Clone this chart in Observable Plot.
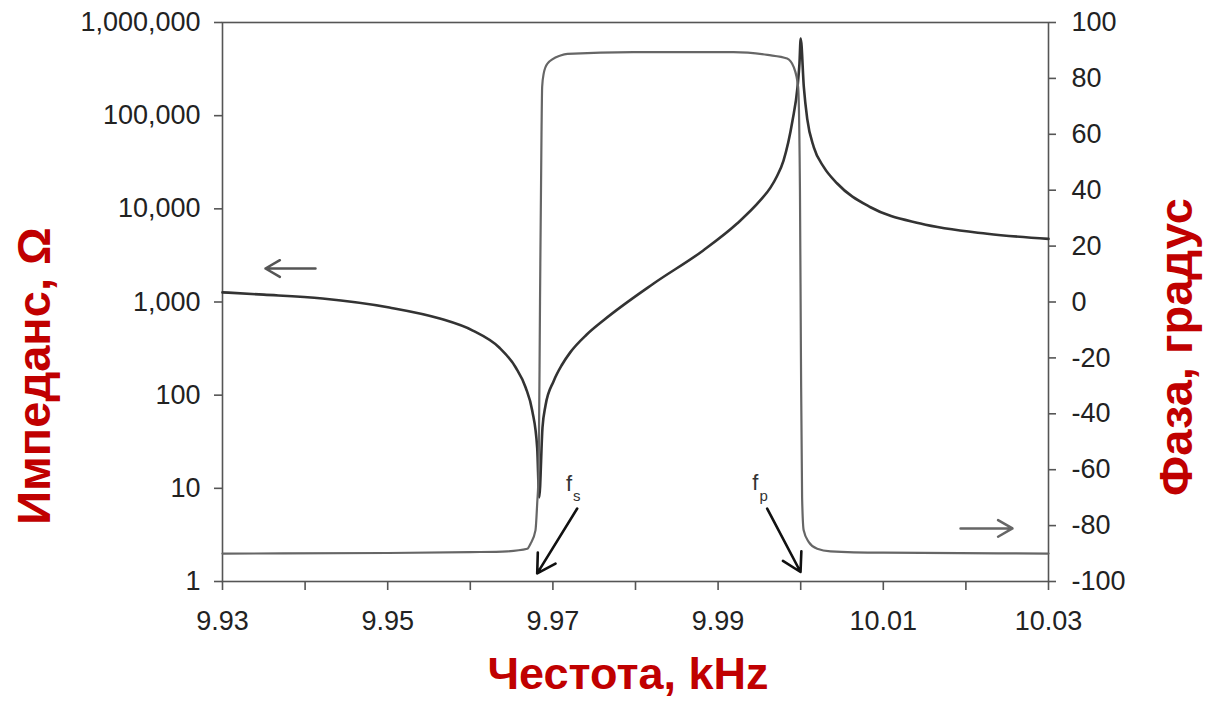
<!DOCTYPE html>
<html><head><meta charset="utf-8">
<script src="https://cdn.jsdelivr.net/npm/d3@7"></script>
<script src="https://cdn.jsdelivr.net/npm/@observablehq/plot@0.6"></script>
<style>
body{margin:0;background:#fff;}
#wrap{position:relative;width:1205px;height:701px;overflow:hidden;}
#wrap svg{position:absolute;left:0;top:0;}
</style></head><body><div id="wrap"></div>
<script>
// Impedance curve (kHz, Ohm)
const freqZ = [9.9300, 9.9350, 9.9421, 9.9502, 9.9563, 9.9603, 9.9635, 9.9655, 9.9667, 9.9675, 9.9681, 9.96834,
  9.96874, 9.9691, 9.9701, 9.9711, 9.9721, 9.97407, 9.9761, 9.9822, 9.9882, 9.9923, 9.9951, 9.99634, 9.99714, 9.99792, 9.99901,
  9.99961, 9.99985, 10.0000, 10.00038, 10.00079, 10.00159, 10.00280, 10.00442, 10.00845, 10.01450, 10.02258, 10.0300];
const impedance = [1270, 1200, 1090, 873, 665, 494, 325, 198, 121, 68, 27, 8,
  45, 77, 142, 212, 288, 445, 633, 1580, 3575, 6950, 12300, 16900, 22500, 33000, 88700,
  200700, 363000, 673000, 202000, 92300, 45800, 28000, 18700, 10400, 6950, 5400, 4760];
// Phase curve (kHz, degrees)
const freqP = [9.9300, 9.9500, 9.9600, 9.9645, 9.9669, 9.96729, 9.96789, 9.96810, 9.96828, 9.96844, 9.96862, 9.96870,
  9.96889, 9.96934, 9.97092, 9.97177, 9.97976, 9.99186, 9.99598, 9.99836, 9.99916, 9.99969, 9.99991, 10.00003,
  10.00017, 10.00036, 10.00098, 10.00200, 10.00361, 10.0100, 10.0300];
const phase = [-90.0, -89.8, -89.5, -89.2, -88.3, -86.5, -81.7, -72, -60, 0, 60, 77,
  81.8, 85.3, 88.2, 88.8, 89.4, 89.4, 88.4, 87.1, 84.0, 76.9, 40, -20,
  -70, -81.7, -85.9, -88.3, -89.2, -89.7, -90.0];

const xTicks = [9.93, 9.94, 9.95, 9.96, 9.97, 9.98, 9.99, 10.00, 10.01, 10.02, 10.03];
const xTickLabels = ["9.93", "", "9.95", "", "9.97", "", "9.99", "", "10.01", "", "10.03"];
const zTicks = [1, 10, 100, 1000, 10000, 100000, 1000000];
const zTickLabels = ["1", "10", "100", "1,000", "10,000", "100,000", "1,000,000"];
const phaseTicks = [-100, -80, -60, -40, -20, 0, 20, 40, 60, 80, 100];
const phaseTickLabels = ["-100", "-80", "-60", "-40", "-20", "0", "20", "40", "60", "80", "100"];

// annotations
const impArrow = [{x1: 9.94126, y1: 2287, x2: 9.9352, y2: 2287}];
const phaseArrow = [{x1: 10.01935, y1: -81.0, x2: 10.02564, y2: -81.0}];
const markerArrows = [
  {x1: 9.97294, y1: -73.9, x2: 9.9681, y2: -97.1},
  {x1: 9.99594, y1: -73.9, x2: 9.99998, y2: -96.6}
];
const markerF = [{x: 9.97195, y: -65.0, t: "f"}, {x: 9.99450, y: -64.6, t: "f"}];
const markerSub = [{x: 9.97290, y: -69.6, t: "s"}, {x: 9.99552, y: -69.6, t: "p"}];

const xTitle = "Честота, kHz";
const yTitle = "Импеданс, Ω";
const y2Title = "Фаза, градус";

const W = 1205, H = 701;
const M = {marginLeft: 222, marginRight: 157, marginTop: 22, marginBottom: 120};
const font = "'Liberation Sans', Arial, Helvetica, sans-serif";
const style = {fontFamily: font, fontSize: "27px", color: "#222", background: "transparent", overflow: "visible"};

const zData = freqZ.map((f, i) => ({f, z: impedance[i]}));
const pData = freqP.map((f, i) => ({f, p: phase[i]}));

const p1 = Plot.plot({
  width: W, height: H, ...M, style,
  x: {domain: [9.93, 10.03]},
  y: {type: "log", domain: [1, 1e6]},
  marks: [
    Plot.frame({stroke: "#555", strokeWidth: 1.6}),
    Plot.axisY({ticks: zTicks, tickFormat: d => zTickLabels[zTicks.indexOf(d)], tickSize: 8, tickPadding: 14, stroke: "#555", strokeWidth: 1.6, fontSize: 27, label: null}),
    Plot.axisX({ticks: xTicks, tickFormat: d => xTickLabels[xTicks.indexOf(d)], tickSize: 9, tickPadding: 20, stroke: "#555", strokeWidth: 1.6, fontSize: 27, label: null}),
    Plot.line(zData, {x: "f", y: "z", stroke: "#333", strokeWidth: 2.6, curve: "monotone-x"}),
    Plot.arrow(impArrow, {x1: "x1", y1: "y1", x2: "x2", y2: "y2", stroke: "#555", strokeWidth: 2.5, headLength: 10})
  ]
});

const p2 = Plot.plot({
  width: W, height: H, ...M, style,
  x: {domain: [9.93, 10.03], axis: null},
  y: {domain: [-100, 100]},
  marks: [
    Plot.axisY({anchor: "right", ticks: phaseTicks, tickFormat: d => phaseTickLabels[phaseTicks.indexOf(d)], tickSize: 7, tickPadding: 16, stroke: "#555", strokeWidth: 1.6, fontSize: 27, label: null}),
    Plot.line(pData, {x: "f", y: "p", stroke: "#666", strokeWidth: 2.2, curve: "monotone-x"}),
    Plot.arrow(phaseArrow, {x1: "x1", y1: "y1", x2: "x2", y2: "y2", stroke: "#666", strokeWidth: 2.5, headLength: 10}),
    Plot.arrow(markerArrows, {x1: "x1", y1: "y1", x2: "x2", y2: "y2", stroke: "#111", strokeWidth: 2.6, headLength: 12}),
    Plot.text(markerF, {x: "x", y: "y", text: "t", fontSize: 22, fill: "#333"}),
    Plot.text(markerSub, {x: "x", y: "y", text: "t", fontSize: 15, fill: "#333"})
  ]
});

const wrap = document.getElementById("wrap");
wrap.appendChild(p1);
wrap.appendChild(p2);

const s = d3.select(p2);
const tStyle = t => t.attr("font-family", font).attr("font-weight", "bold").attr("fill", "#c00000").attr("text-anchor", "middle");
s.append("text").text(xTitle).call(tStyle).attr("font-size", 45).attr("x", 628).attr("y", 689);
s.append("text").text(yTitle).call(tStyle).attr("font-size", 47).attr("transform", "translate(50,376) rotate(-90)");
s.append("text").text(y2Title).call(tStyle).attr("font-size", 47).attr("transform", "translate(1192,347) rotate(-90)");
</script></body></html>
